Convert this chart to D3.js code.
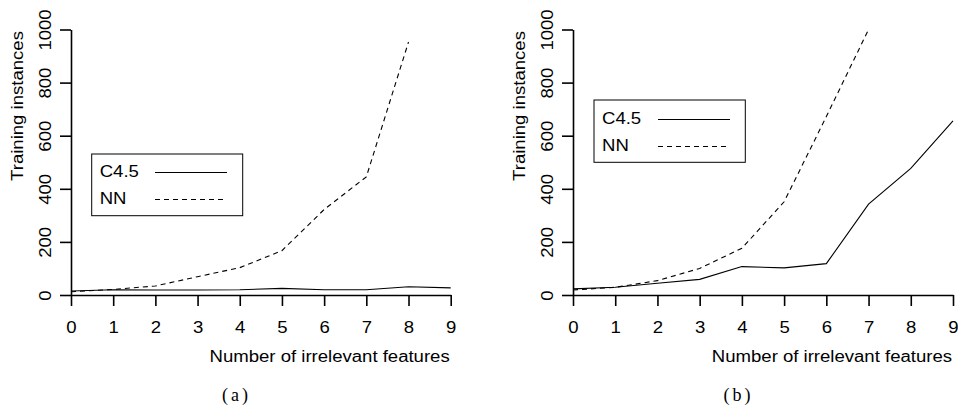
<!DOCTYPE html>
<html>
<head>
<meta charset="utf-8">
<script src="https://cdn.jsdelivr.net/npm/d3@7"></script>
<style>
  body { margin: 0; background: #fff; }
  svg { display: block; }
  text { font-family: "Liberation Sans", Arial, sans-serif; fill: #000; }
</style>
</head>
<body>
<div id="chart"></div>
<script>
// features on the x axis
var features = [0, 1, 2, 3, 4, 5, 6, 7, 8, 9];
var yTicks = [0, 200, 400, 600, 800, 1000];

// panel (a)
var c45_a = [15, 20, 19, 19, 20, 25, 20, 20, 31, 27];
var nn_a  = [12, 21, 34, 69, 103, 167, 322, 445, 953, null];

// panel (b)
var c45_b = [23, 29, 44, 59, 107, 102, 118, 342, 477, 656];
var nn_b  = [19, 29, 54, 100, 176, 351, 672, 1000, null, null];

var seriesNames = ["C4.5", "NN"];
var panelLabels = ["(a)", "(b)"];

var W = 958, H = 406;
var FS = "16px";          // text size
var SX = "scale(1.16,1)"; // the original glyphs are a bit wider

var svg = d3.select("#chart").append("svg")
    .attr("width", W)
    .attr("height", H);

// draw one panel
function drawPanel(opts) {
    var x = d3.scaleLinear().domain([0, 9]).range([opts.left, opts.right]);
    var y = d3.scaleLinear().domain([0, 1000]).range([295, 29.5]);

    var g = svg.append("g");

    // x axis
    var xa = g.append("g")
        .attr("transform", "translate(0,295)")
        .call(d3.axisBottom(x).tickValues(features).tickFormat(d3.format("d"))
            .tickSize(11).tickSizeOuter(0));
    xa.select(".domain").attr("stroke-width", 1.6);
    xa.selectAll(".tick line").attr("stroke-width", 1.6);
    xa.selectAll("text")
        .attr("y", null)
        .attr("dy", null)
        .attr("dominant-baseline", "central")
        .attr("transform", "translate(0,32) " + SX)
        .style("font-size", FS);

    // y axis
    var ya = g.append("g")
        .attr("transform", "translate(" + opts.left + ",0)")
        .call(d3.axisLeft(y).tickValues(yTicks).tickFormat(d3.format("d"))
            .tickSize(11).tickSizeOuter(0));
    ya.select(".domain").attr("stroke-width", 1.6);
    ya.selectAll(".tick line").attr("stroke-width", 1.6);
    ya.selectAll("text")
        .attr("x", null)
        .attr("dy", null)
        .attr("text-anchor", "middle")
        .attr("dominant-baseline", "central")
        .attr("transform", "translate(-25.5,0) rotate(-90) " + SX)
        .style("font-size", FS);

    // axis titles
    g.append("text")
        .attr("transform", "translate(" + (opts.right - 1) + ",361.5) " + SX)
        .attr("text-anchor", "end")
        .style("font-size", FS)
        .text("Number of irrelevant features");

    g.append("text")
        .attr("transform", "translate(" + (opts.left - 54) + ",106) rotate(-90) " + SX)
        .attr("text-anchor", "middle")
        .attr("dominant-baseline", "central")
        .style("font-size", FS)
        .text("Training instances");

    // panel caption
    g.append("text")
        .attr("x", opts.caption + 1.5)
        .attr("y", 395)
        .attr("text-anchor", "middle")
        .attr("dominant-baseline", "central")
        .style("font-family", "'Liberation Serif', 'DejaVu Serif', serif")
        .style("font-size", "18px")
        .style("letter-spacing", "3px")
        .text(opts.label);

    var line = d3.line()
        .defined(function(d) { return d != null; })
        .x(function(d, i) { return x(features[i]); })
        .y(function(d) { return y(d); });

    g.append("path")
        .datum(opts.c45)
        .attr("fill", "none")
        .attr("stroke", "#000")
        .attr("stroke-width", 1.1)
        .attr("d", line);

    g.append("path")
        .datum(opts.nn)
        .attr("fill", "none")
        .attr("stroke", "#000")
        .attr("stroke-width", 1.1)
        .attr("stroke-dasharray", "5,4")
        .attr("d", line);

    // legend
    var lg = opts.legend;
    g.append("rect")
        .attr("x", lg.x0)
        .attr("y", lg.y0)
        .attr("width", lg.x1 - lg.x0)
        .attr("height", lg.y1 - lg.y0)
        .attr("fill", "#fff")
        .attr("stroke", "#000")
        .attr("stroke-width", 1);

    seriesNames.forEach(function(name, i) {
        var cy = lg.rows[i];
        g.append("text")
            .attr("transform", "translate(" + (lg.x0 + 8) + "," + cy + ") " + SX)
            .attr("dominant-baseline", "central")
            .style("font-size", FS)
            .text(name);
        g.append("line")
            .attr("x1", lg.l0)
            .attr("x2", lg.l1)
            .attr("y1", cy + 1.5)
            .attr("y2", cy + 1.5)
            .attr("stroke", "#000")
            .attr("stroke-width", 1.1)
            .attr("stroke-dasharray", i === 1 ? "5,4" : null);
    });
}

drawPanel({
    left: 71, right: 450.7, caption: 235, label: panelLabels[0],
    c45: c45_a, nn: nn_a,
    legend: { x0: 91.7, x1: 242.7, y0: 154, y1: 215.7, rows: [171, 198], l0: 155, l1: 227 }
});

drawPanel({
    left: 573, right: 953, caption: 737, label: panelLabels[1],
    c45: c45_b, nn: nn_b,
    legend: { x0: 594, x1: 745.3, y0: 100, y1: 162.3, rows: [118, 145], l0: 658, l1: 730 }
});
</script>
</body>
</html>
